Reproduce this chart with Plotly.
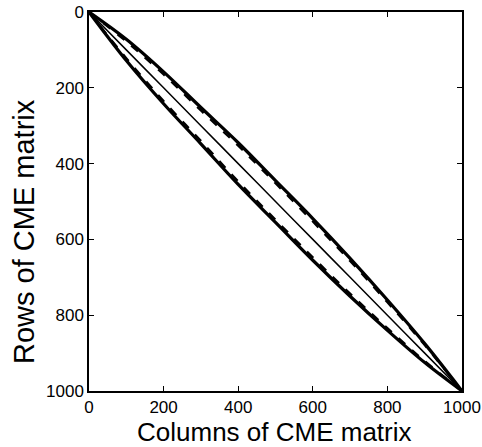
import plotly.graph_objects as go

# Column positions where curves were read
cols = [0, 100, 200, 300, 400, 500, 600, 700, 800, 900, 1000]
# Diagonal
diag_rows = [0, 100, 200, 300, 400, 500, 600, 700, 800, 900, 1000]
# Upper band (solid and dashed)
upper_solid = [0, 72, 158, 252, 345, 445, 545, 650, 760, 875, 1000]
upper_dash = [0, 78, 165, 260, 353, 452, 553, 657, 766, 879, 1000]
# Lower band (solid and dashed)
lower_solid = [0, 128, 242, 348, 455, 555, 655, 750, 840, 925, 1000]
lower_dash = [0, 122, 235, 340, 447, 548, 647, 743, 834, 921, 1000]

tick_vals = [0, 200, 400, 600, 800, 1000]
tick_text = ["0", "200", "400", "600", "800", "1000"]

FONT = "Liberation Sans, Arial"

fig = go.Figure()
fig.add_trace(go.Scatter(x=cols, y=diag_rows, mode="lines", line=dict(color="black", width=1.5, shape="spline")))
fig.add_trace(go.Scatter(x=cols, y=upper_solid, mode="lines", line=dict(color="black", width=3.2, shape="spline")))
fig.add_trace(go.Scatter(x=cols, y=upper_dash, mode="lines", line=dict(color="black", width=2.2, dash="dash", shape="spline")))
fig.add_trace(go.Scatter(x=cols, y=lower_solid, mode="lines", line=dict(color="black", width=3.2, shape="spline")))
fig.add_trace(go.Scatter(x=cols, y=lower_dash, mode="lines", line=dict(color="black", width=2.2, dash="dash", shape="spline")))

axis_common = dict(
    range=[0, 1000], tickvals=tick_vals, ticktext=tick_text,
    ticks="inside", ticklen=5, tickcolor="black", tickwidth=1,
    showline=True, linecolor="black", linewidth=1.5, mirror="ticks",
    showgrid=False, zeroline=False, ticklabeloverflow="allow", automargin=False,
    tickfont=dict(family=FONT, size=17, color="black"),
)
fig.update_layout(
    width=482, height=447,
    margin=dict(l=89, r=20, t=12, b=56, autoexpand=False),
    paper_bgcolor="white", plot_bgcolor="white",
    showlegend=False,
    xaxis=dict(**axis_common),
    yaxis=dict(**axis_common),
    annotations=[
        dict(
            text="Rows of CME matrix", textangle=-90, showarrow=False,
            xref="paper", yref="paper", x=(24 - 89) / 373, y=(391 - 232) / 379,
            xanchor="center", yanchor="middle",
            font=dict(family=FONT, size=29, color="black"),
        ),
        dict(
            text="Columns of CME matrix", showarrow=False,
            xref="paper", yref="paper", x=(274 - 89) / 373, y=(391 - 432) / 379,
            xanchor="center", yanchor="middle",
            font=dict(family=FONT, size=26, color="black"),
        ),
    ],
)
fig.update_yaxes(range=[1000, 0])
fig.write_html("out.html")
